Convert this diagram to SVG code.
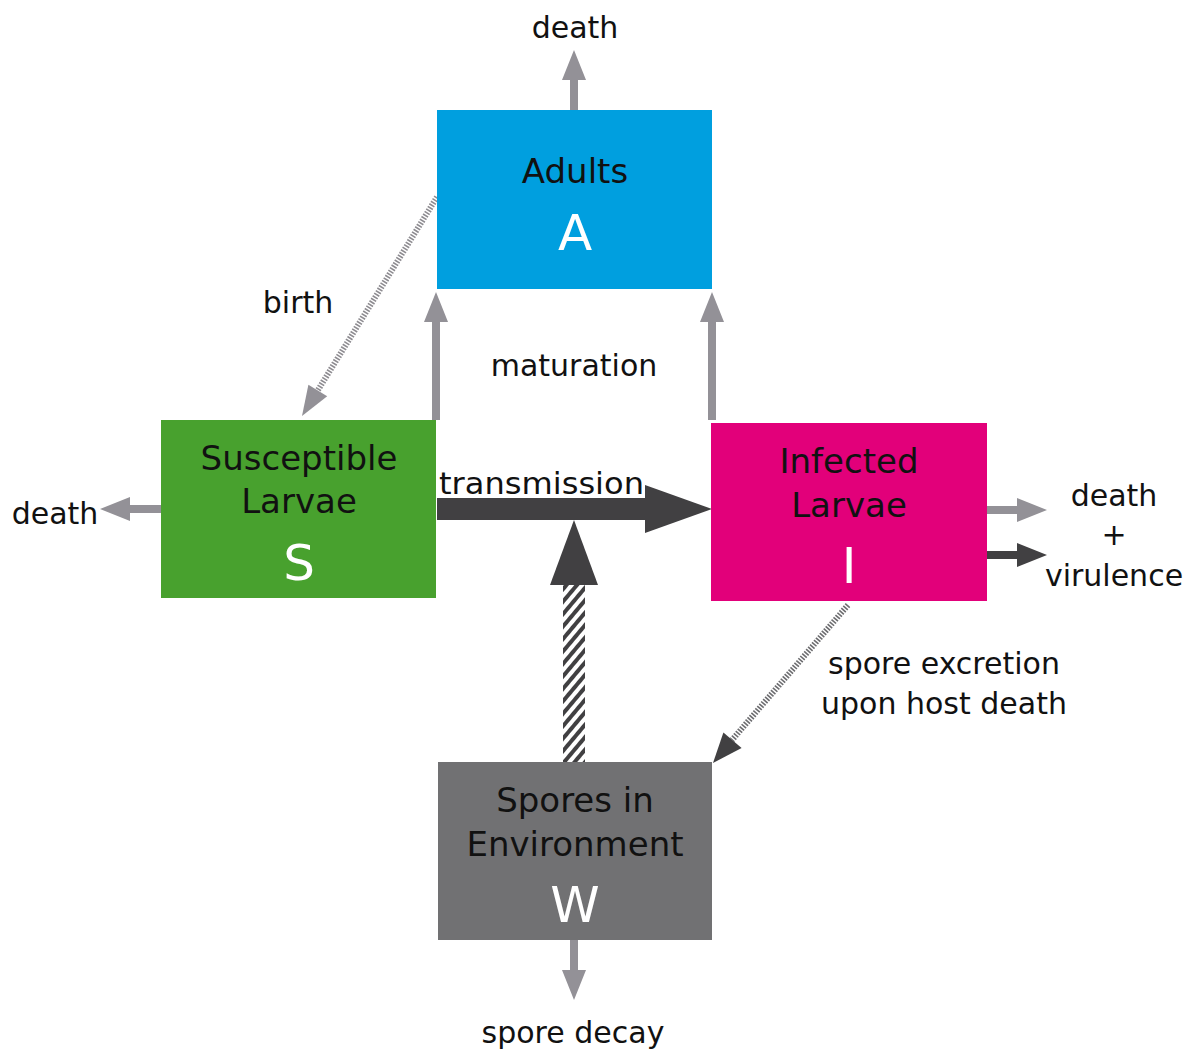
<svg xmlns="http://www.w3.org/2000/svg" width="1196" height="1055" viewBox="0 0 1196 1055">
<style>
text{font-family:"DejaVu Sans","Open Sans",sans-serif;fill:#111;}
.lbl{font-size:30px;}
.ttl{font-size:34px;text-anchor:middle;}
.sym{font-size:50px;text-anchor:middle;fill:#fff;}
.g{stroke:#939197;stroke-width:8;fill:none;}
.d{stroke:#414042;stroke-width:8;fill:none;}
.hg{stroke:#8e8c91;stroke-width:6;stroke-dasharray:1.6 1.4;fill:none;}
.hd{stroke:#6d6d70;stroke-width:6;stroke-dasharray:1.6 1.4;fill:none;}
</style>
<defs>
<marker id="ag" viewBox="0 0 30 24" refX="0" refY="12" markerWidth="30" markerHeight="24" markerUnits="userSpaceOnUse" orient="auto"><path d="M0,0L30,12L0,24z" fill="#939197"/></marker>
<marker id="ad" viewBox="0 0 30 24" refX="0" refY="12" markerWidth="30" markerHeight="24" markerUnits="userSpaceOnUse" orient="auto"><path d="M0,0L30,12L0,24z" fill="#414042"/></marker>
<pattern id="stripes" patternUnits="userSpaceOnUse" width="8" height="8" patternTransform="rotate(40)"><rect width="8" height="8" fill="#fff"/><rect width="4" height="8" fill="#414042"/></pattern>
</defs>
<rect width="1196" height="1055" fill="#fff"/>
<g id="connectors">
<line class="g" x1="574" y1="110" x2="574" y2="80" marker-end="url(#ag)"/>
<line class="g" x1="161" y1="509" x2="130" y2="509" marker-end="url(#ag)"/>
<line class="g" x1="436" y1="420" x2="436" y2="322" marker-end="url(#ag)"/>
<line class="g" x1="712" y1="420" x2="712" y2="322" marker-end="url(#ag)"/>
<line class="hg" x1="437" y1="197" x2="318" y2="390"/>
<path d="M302,416L327.2,396.3L308.4,384.7z" fill="#939197"/>
<line class="hd" x1="848" y1="605" x2="732" y2="740"/>
<path d="M713,763L741.6,748L723.4,732.4z" fill="#414042"/>
<rect x="437" y="498" width="210" height="22" fill="#414042"/>
<path d="M645,485L712,509L645,533z" fill="#414042"/>
<rect x="563" y="585" width="22" height="177" fill="url(#stripes)"/>
<path d="M550,585L574,520L598,585z" fill="#414042"/>
<line class="g" x1="987" y1="510" x2="1017" y2="510" stroke-width="7" marker-end="url(#ag)"/>
<line class="d" x1="987" y1="555" x2="1017" y2="555" stroke-width="7" marker-end="url(#ad)"/>
<line class="g" x1="574" y1="940" x2="574" y2="970" marker-end="url(#ag)"/>
</g>
<g id="adults">
<rect x="437" y="110" width="275" height="179" fill="#009fdf"/>
<text class="ttl" x="575" y="183">Adults</text>
<text class="sym" x="575" y="250">A</text>
</g>
<g id="susceptible">
<rect x="161" y="420" width="275" height="178" fill="#48a12e"/>
<text class="ttl" x="299" y="470">Susceptible</text>
<text class="ttl" x="299" y="513">Larvae</text>
<text class="sym" x="299" y="580">S</text>
</g>
<g id="infected">
<rect x="711" y="423" width="276" height="178" fill="#e2007a"/>
<text class="ttl" x="849" y="473">Infected</text>
<text class="ttl" x="849" y="517">Larvae</text>
<text class="sym" x="849" y="583">I</text>
</g>
<g id="spores">
<rect x="438" y="762" width="274" height="178" fill="#717173"/>
<text class="ttl" x="575" y="812">Spores in</text>
<text class="ttl" x="575" y="856">Environment</text>
<text class="sym" x="575" y="922">W</text>
</g>
<g id="labels">
<text class="lbl" x="575" y="38" text-anchor="middle">death</text>
<text class="lbl" x="298" y="313" text-anchor="middle">birth</text>
<text class="lbl" x="574" y="376" text-anchor="middle">maturation</text>
<rect x="437" y="468" width="208" height="29" fill="#fff"/>
<text class="lbl" x="439" y="494" font-size="32" textLength="205" lengthAdjust="spacingAndGlyphs">transmission</text>
<text class="lbl" x="55" y="524" text-anchor="middle">death</text>
<text class="lbl" x="1114" y="506" text-anchor="middle">death</text>
<text class="lbl" x="1114" y="545" text-anchor="middle">+</text>
<text class="lbl" x="1114" y="586" text-anchor="middle">virulence</text>
<text class="lbl" x="944" y="674" text-anchor="middle">spore excretion</text>
<text class="lbl" x="944" y="714" text-anchor="middle">upon host death</text>
<text class="lbl" x="573" y="1043" text-anchor="middle">spore decay</text>
</g>
</svg>
